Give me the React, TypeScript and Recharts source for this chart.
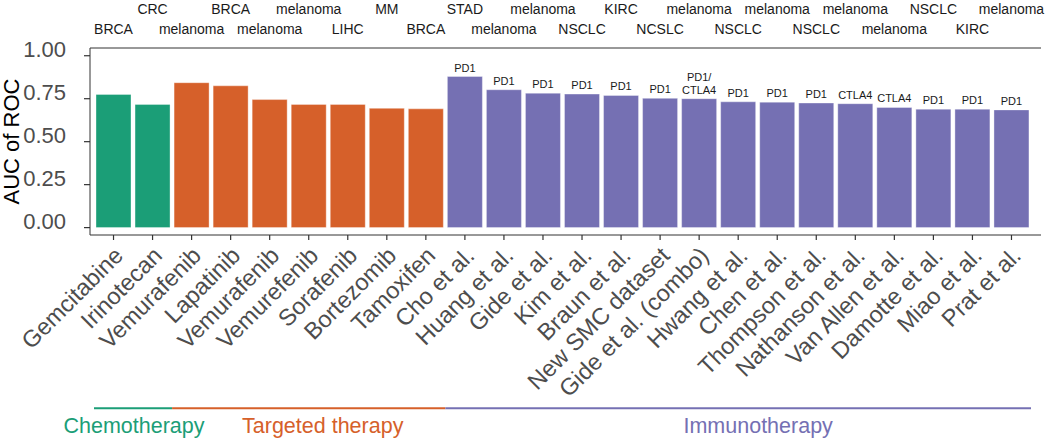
import React from 'react';
import { BarChart, Bar, XAxis, YAxis, Cell, LabelList, ReferenceArea } from 'recharts';

const drugs = ['Gemcitabine', 'Irinotecan', 'Vemurafenib', 'Lapatinib', 'Vemurafenib', 'Vemurefenib', 'Sorafenib', 'Bortezomib', 'Tamoxifen', 'Cho et al.', 'Huang et al.', 'Gide et al.', 'Kim et al.', 'Braun et al.', 'New SMC dataset', 'Gide et al. (combo)', 'Hwang et al.', 'Chen et al.', 'Thompson et al.', 'Nathanson et al.', 'Van Allen et al.', 'Damotte et al.', 'Miao et al.', 'Prat et al.'];
const aucValues = [0.775, 0.717, 0.843, 0.825, 0.745, 0.717, 0.717, 0.694, 0.691, 0.879, 0.802, 0.782, 0.777, 0.769, 0.752, 0.750, 0.732, 0.730, 0.725, 0.721, 0.699, 0.689, 0.689, 0.685];
const cancerTypes = ['BRCA', 'CRC', 'melanoma', 'BRCA', 'melanoma', 'melanoma', 'LIHC', 'MM', 'BRCA', 'STAD', 'melanoma', 'melanoma', 'NSCLC', 'KIRC', 'NCSLC', 'melanoma', 'NSCLC', 'melanoma', 'NSCLC', 'melanoma', 'melanoma', 'NSCLC', 'KIRC', 'melanoma'];
const targets = ['', '', '', '', '', '', '', '', '', 'PD1', 'PD1', 'PD1', 'PD1', 'PD1', 'PD1', 'PD1/\nCTLA4', 'PD1', 'PD1', 'PD1', 'CTLA4', 'CTLA4', 'PD1', 'PD1', 'PD1'];
const groups = ['Chemotherapy', 'Chemotherapy', 'Targeted therapy', 'Targeted therapy', 'Targeted therapy', 'Targeted therapy', 'Targeted therapy', 'Targeted therapy', 'Targeted therapy', 'Immunotherapy', 'Immunotherapy', 'Immunotherapy', 'Immunotherapy', 'Immunotherapy', 'Immunotherapy', 'Immunotherapy', 'Immunotherapy', 'Immunotherapy', 'Immunotherapy', 'Immunotherapy', 'Immunotherapy', 'Immunotherapy', 'Immunotherapy', 'Immunotherapy'];
const groupNames = ['Chemotherapy', 'Targeted therapy', 'Immunotherapy'];
const yTicks = [0, 0.25, 0.5, 0.75, 1];

const groupColors: Record<string, string> = {
  Chemotherapy: '#1b9e77',
  'Targeted therapy': '#d6602a',
  Immunotherapy: '#7570b3',
};
const groupLabelShift: Record<string, number> = {
  Chemotherapy: 1,
  'Targeted therapy': 14,
  Immunotherapy: 20,
};

const data = drugs.map((name, i) => ({
  key: String(i),
  name,
  auc: aucValues[i],
  cancer: cancerTypes[i],
  target: targets[i],
  group: groups[i],
}));

const FONT = '"Liberation Sans", Arial, Helvetica, sans-serif';

const XTick = (props: any) => {
  const { x, y, payload } = props;
  const i = Number(payload.value);
  const ax = x + 11;
  const ay = y + 15;
  return (
    <text x={ax} y={ay} transform={`rotate(-45 ${ax} ${ay})`} textAnchor="end" fontSize={23.5} fill="#4d4d4d" fontFamily={FONT}>
      {drugs[i]}
    </text>
  );
};

const TopTick = (props: any) => {
  const { x, y, payload } = props;
  const i = Number(payload.value);
  const upper = i % 2 === 1;
  return (
    <text x={x} y={upper ? y - 34.5 : y - 14} textAnchor="middle" fontSize={14} fill="#1a1a1a" fontFamily={FONT}>
      {cancerTypes[i]}
    </text>
  );
};

const YTick = (props: any) => {
  const { x, y, payload } = props;
  return (
    <text x={x} y={y + 1} textAnchor="end" fontSize={22} fill="#4d4d4d" fontFamily={FONT}>
      {Number(payload.value).toFixed(2)}
    </text>
  );
};

const YLabel = (props: any) => {
  const { viewBox } = props;
  const cx = 18.5;
  const cy = viewBox.y + viewBox.height / 2;
  return (
    <text x={cx} y={cy} transform={`rotate(-90 ${cx} ${cy})`} textAnchor="middle" fontSize={22} fill="#000" fontFamily={FONT}>
      AUC of ROC
    </text>
  );
};

const BarLabel = (props: any) => {
  const { x, y, width, value } = props;
  if (!value) return null;
  const lines = String(value).split('\n');
  const cx = Number(x) + Number(width) / 2;
  return (
    <text textAnchor="middle" fontSize={11} fill="#1a1a1a" fontFamily={FONT}>
      {lines.map((l, k) => (
        <tspan key={k} x={cx} y={Number(y) - 5 - (lines.length - 1 - k) * 13}>
          {l}
        </tspan>
      ))}
    </text>
  );
};

const GroupLabel = (props: any) => {
  const { viewBox, text } = props;
  return (
    <text
      x={viewBox.x + viewBox.width / 2 + groupLabelShift[text]}
      y={viewBox.y + viewBox.height + 23.5}
      textAnchor="middle"
      fontSize={21.5}
      fill={groupColors[text]}
      fontFamily={FONT}
    >
      {text}
    </text>
  );
};

export default function App() {
  const firstKey = (g: string) => data.find((d) => d.group === g)!.key;
  const lastKey = (g: string) => [...data].reverse().find((d) => d.group === g)!.key;
  return (
    <div style={{ position: 'absolute', left: 0, top: 0, width: 1050, height: 439, background: '#fff' }}>
      <BarChart width={1050} height={439} data={data} margin={{ top: 0, right: 9, bottom: 0, left: 0 }} barCategoryGap={2}>
        <XAxis
          xAxisId="bottom"
          dataKey="key"
          height={204}
          padding={{ left: 4, right: 10 }}
          interval={0}
          tick={<XTick />}
          tickSize={5}
          tickMargin={2}
          axisLine={{ stroke: '#333', strokeWidth: 1 }}
          tickLine={{ stroke: '#333', strokeWidth: 1.2 }}
        />
        <XAxis
          xAxisId="top"
          orientation="top"
          dataKey="key"
          height={48}
          padding={{ left: 4, right: 10 }}
          interval={0}
          tick={<TopTick />}
          tickSize={0}
          tickMargin={0}
          tickLine={false}
          axisLine={{ stroke: '#333', strokeWidth: 1 }}
        />
        <YAxis
          yAxisId="left"
          type="number"
          domain={[-0.043, 1.045]}
          allowDataOverflow
          ticks={yTicks}
          width={90}
          tick={<YTick />}
          tickSize={6}
          tickMargin={18}
          axisLine={{ stroke: '#333', strokeWidth: 1 }}
          tickLine={{ stroke: '#333', strokeWidth: 1.2 }}
          label={<YLabel />}
        />
        <YAxis
          yAxisId="right"
          orientation="right"
          width={0}
          tick={false}
          tickLine={false}
          axisLine={{ stroke: '#333', strokeWidth: 1 }}
        />
        <Bar dataKey="auc" xAxisId="bottom" yAxisId="left" isAnimationActive={false} stroke="#ffffff" strokeOpacity={0.45} strokeWidth={0.8}>
          {data.map((d) => (
            <Cell key={d.key} fill={groupColors[d.group]} />
          ))}
          <LabelList dataKey="target" content={<BarLabel />} />
        </Bar>
        {groupNames.map((g) => (
          <ReferenceArea
            key={g}
            xAxisId="bottom"
            yAxisId="left"
            x1={firstKey(g)}
            x2={lastKey(g)}
            y1={-1.0454}
            y2={-1.057}
            ifOverflow="visible"
            fill={groupColors[g]}
            fillOpacity={1}
            stroke="none"
            label={<GroupLabel text={g} />}
          />
        ))}
      </BarChart>
    </div>
  );
}
